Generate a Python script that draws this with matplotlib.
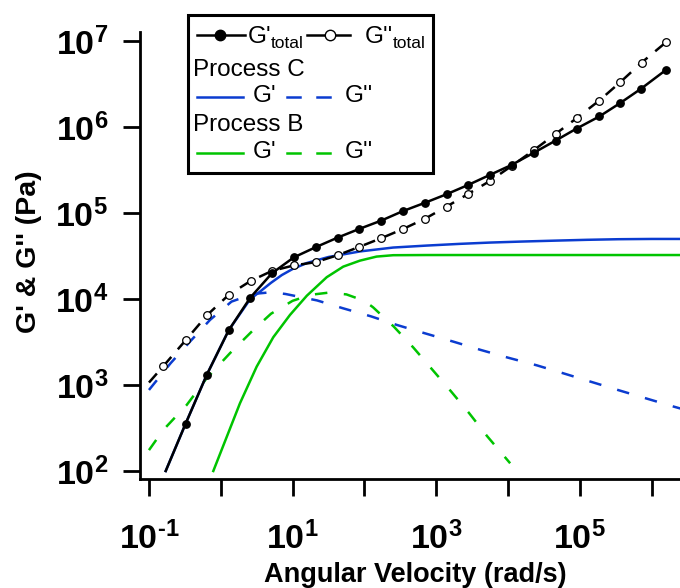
import numpy as np
import matplotlib
matplotlib.use("Agg")
import matplotlib.pyplot as plt
from matplotlib.patches import Rectangle
from matplotlib.ticker import FixedLocator, FixedFormatter, NullLocator

plt.rcParams['font.family'] = ['Liberation Sans', 'DejaVu Sans']
plt.rcParams['mathtext.fontset'] = 'custom'
plt.rcParams['mathtext.rm'] = 'Liberation Sans:bold'
plt.rcParams['mathtext.bf'] = 'Liberation Sans:bold'
plt.rcParams['mathtext.it'] = 'Liberation Sans:bold:italic'
plt.rcParams['mathtext.sf'] = 'Liberation Sans:bold'

# ---------------- data ----------------
# total moduli (markers)
omega_total = [0.324, 0.637, 1.29, 2.58, 5.16, 10.4, 21.0, 42.5, 84.9, 172, 341, 692,
               1400, 2800, 5610, 11270, 23230, 46130, 90570, 187100, 363100, 711200, 1574000]
Gp_total = [356, 1312, 4345, 10420, 20000, 30600, 40200, 52000, 65600, 82000, 105400, 131800,
            166300, 213300, 279000, 364800, 508000, 699800, 966000, 1334000, 1905000, 2800000, 4620000]
omega_Gpp_total = [0.158, 0.324, 0.643, 1.30, 2.61, 5.16, 10.4, 21.0, 42.5, 84.9, 172, 341, 692,
                   1400, 2800, 5610, 11270, 23230, 46130, 90570, 187100, 367300, 727800, 1574000]
Gpp_total = [1656, 3319, 6501, 11270, 16290, 21280, 24660, 26920, 32430, 40550, 51170, 65160, 85900,
             119400, 167900, 237100, 354800, 545800, 837500, 1276000, 2046000, 3350000, 5660000, 9680000]
# line start points (no marker)
omega_Gp_total_start, Gp_total_start = 0.171, 100
omega_Gpp_total_start, Gpp_total_start = 0.100, 1070

# Process C
omega_C_Gp = [0.171, 0.324, 0.637, 1.29, 2.57, 3.55, 5.01, 7.08, 10.0, 15.8, 31.6, 87.1, 251,
              741, 2140, 5620, 15850, 47860, 125900, 346700, 1000000, 3980000]
C_Gp = [100, 356, 1312, 4345, 10000, 12300, 15490, 19050, 22390, 26300, 30900, 35890, 39810,
        41980, 43950, 45500, 46770, 47970, 48980, 49770, 50120, 50120]
omega_C_Gpp = [0.1, 0.2, 0.372, 0.708, 1.41, 2.82, 5.01, 7.94, 21.9, 50.1, 123, 282, 692, 1738,
               4169, 10000, 25120, 58880, 141300, 338800, 831800, 2040000, 3980000]
C_Gpp = [877, 1795, 3199, 5728, 9354, 11480, 12020, 11480, 9660, 7834, 6310, 5012, 4009, 3199,
         2564, 2084, 1698, 1371, 1096, 877, 701, 561, 479]

# Process B
omega_B_Gp = [0.787, 1.85, 3.16, 5.38, 9.20, 15.8, 29.9, 50.8, 86.9, 148, 252, 738, 3980000]
B_Gp = [100, 614, 1637, 3597, 6546, 10960, 17990, 23880, 28050, 31260, 32430, 32580, 32580]
omega_B_Gpp = [0.1, 0.158, 0.335, 0.637, 1.34, 2.84, 5.01, 10.0, 17.8, 31.6, 56.2, 100, 132, 257,
               479, 891, 1622, 2884, 5129, 9333, 10720]
B_Gpp = [175, 300, 586, 1202, 2344, 4375, 6761, 9550, 11220, 11890, 11350, 9550, 8035, 4786,
         2742, 1500, 838, 470, 254, 141, 123]

xtick_vals = [1e-1, 1e0, 1e1, 1e2, 1e3, 1e4, 1e5, 1e6]
xtick_labels = ['$\\mathbf{10^{\u2010 1}}$', '', r'$\mathbf{10^{1}}$', '', r'$\mathbf{10^{3}}$', '',
                r'$\mathbf{10^{5}}$', '']
ytick_vals = [1e2, 1e3, 1e4, 1e5, 1e6, 1e7]
ytick_labels = [r'$\mathbf{10^{2}}$', r'$\mathbf{10^{3}}$', r'$\mathbf{10^{4}}$',
                r'$\mathbf{10^{5}}$', r'$\mathbf{10^{6}}$', r'$\mathbf{10^{7}}$']

BLUE = '#0B3CD0'
GREEN = '#00C400'

# ---------------- figure ----------------
W, H = 680, 588
fig = plt.figure(figsize=(W / 100, H / 100), dpi=100)
ax_l, ax_r, ax_t, ax_b = 140, 690, 32, 479
ax = fig.add_axes([ax_l / W, 1 - ax_b / H, (ax_r - ax_l) / W, (ax_b - ax_t) / H])
ax.set_xscale('log')
ax.set_yscale('log')
ax.set_xlim(10 ** -1.125, 10 ** 6.535)
ax.set_ylim(10 ** 1.907, 10 ** 7.108)

LW = 1.8
# Process B
ax.plot(omega_B_Gp, B_Gp, color=GREEN, lw=LW, zorder=2)
ax.plot(omega_B_Gpp, B_Gpp, color=GREEN, lw=LW, linestyle=(0, (5.0, 6.6)), zorder=2)
# Process C
ax.plot(omega_C_Gp, C_Gp, color=BLUE, lw=LW, zorder=3)
ax.plot(omega_C_Gpp, C_Gpp, color=BLUE, lw=LW, linestyle=(0, (5.0, 6.6)), zorder=3)

# totals
ax.plot([omega_Gpp_total_start] + omega_Gpp_total, [Gpp_total_start] + Gpp_total,
        color='black', lw=1.8, linestyle=(0, (4.8, 4.0)), zorder=4)
ax.plot(omega_Gpp_total, Gpp_total, linestyle='none', marker='o', ms=5.5,
        mfc='white', mec='black', mew=0.9, zorder=5)
ax.plot([omega_Gp_total_start] + omega_total, [Gp_total_start] + Gp_total,
        color='black', lw=1.8, zorder=6)
ax.plot(omega_total, Gp_total, linestyle='none', marker='o', ms=5.3,
        mfc='black', mec='black', zorder=7)

# axes styling
for s in ['top', 'right']:
    ax.spines[s].set_visible(False)
for s in ['left', 'bottom']:
    ax.spines[s].set_linewidth(2)
ax.xaxis.set_major_locator(FixedLocator(xtick_vals))
ax.xaxis.set_major_formatter(FixedFormatter(xtick_labels))
ax.yaxis.set_major_locator(FixedLocator(ytick_vals))
ax.yaxis.set_major_formatter(FixedFormatter(ytick_labels))
ax.xaxis.set_minor_locator(NullLocator())
ax.yaxis.set_minor_locator(NullLocator())
ax.tick_params(axis='both', which='major', direction='out', length=12, width=2, labelsize=24.5)
ax.tick_params(axis='x', pad=19)
ax.tick_params(axis='y', pad=11)

ax.set_xlabel('Angular Velocity (rad/s)', fontsize=19.5, fontweight='bold')
ax.xaxis.label.set_va('baseline')
ax.xaxis.set_label_coords(0.5, (ax_b - 582) / (ax_b - ax_t))
ax.set_ylabel("G' & G'' (Pa)", fontsize=20.5, fontweight='bold')
ax.yaxis.label.set_va('center')
ax.yaxis.set_label_coords((29 - ax_l) / (ax_r - ax_l), (ax_b - 251.5) / (ax_b - ax_t))

# ---------------- legend (overlay in pixel coordinates) ----------------
lg = fig.add_axes([0, 0, 1, 1], facecolor='none')
lg.set_xlim(0, W)
lg.set_ylim(H, 0)
lg.axis('off')
lg.add_patch(Rectangle((188, 15), 245, 158, facecolor='white', edgecolor='black', lw=2.2, zorder=1))
fs = 17.5
fs_sub = 12.5
# row 1
lg.plot([197, 245], [35, 35], color='black', lw=1.8, zorder=2)
lg.plot([220], [35], marker='o', ms=7.5, color='black', zorder=3)
lg.text(248, 43, "G'", fontsize=fs, va='baseline', ha='left')
lg.text(271, 48.5, "total", fontsize=fs_sub, va='baseline', ha='left')
lg.plot([307, 350], [35, 35], color='black', lw=1.8, zorder=2)
lg.plot([330], [35], marker='o', ms=7.5, mfc='white', mec='black', mew=1, zorder=3)
lg.text(365, 43, "G''", fontsize=fs, va='baseline', ha='left')
lg.text(393, 48.5, "total", fontsize=fs_sub, va='baseline', ha='left')
# row 2/3
lg.text(193, 75.5, "Process C", fontsize=fs, va='baseline', ha='left')
lg.plot([197, 243], [96.5, 96.5], color=BLUE, lw=LW)
lg.text(253, 102.5, "G'", fontsize=fs, va='baseline', ha='left')
lg.plot([287, 300], [96.5, 96.5], color=BLUE, lw=LW)
lg.plot([317, 330], [96.5, 96.5], color=BLUE, lw=LW)
lg.text(345, 102.5, "G''", fontsize=fs, va='baseline', ha='left')
# row 4/5
lg.text(193, 131, "Process B", fontsize=fs, va='baseline', ha='left')
lg.plot([197, 243], [152.5, 152.5], color=GREEN, lw=LW)
lg.text(253, 158.5, "G'", fontsize=fs, va='baseline', ha='left')
lg.plot([287, 300], [152.5, 152.5], color=GREEN, lw=LW)
lg.plot([317, 330], [152.5, 152.5], color=GREEN, lw=LW)
lg.text(345, 158.5, "G''", fontsize=fs, va='baseline', ha='left')

fig.savefig('out.png', dpi=100)
